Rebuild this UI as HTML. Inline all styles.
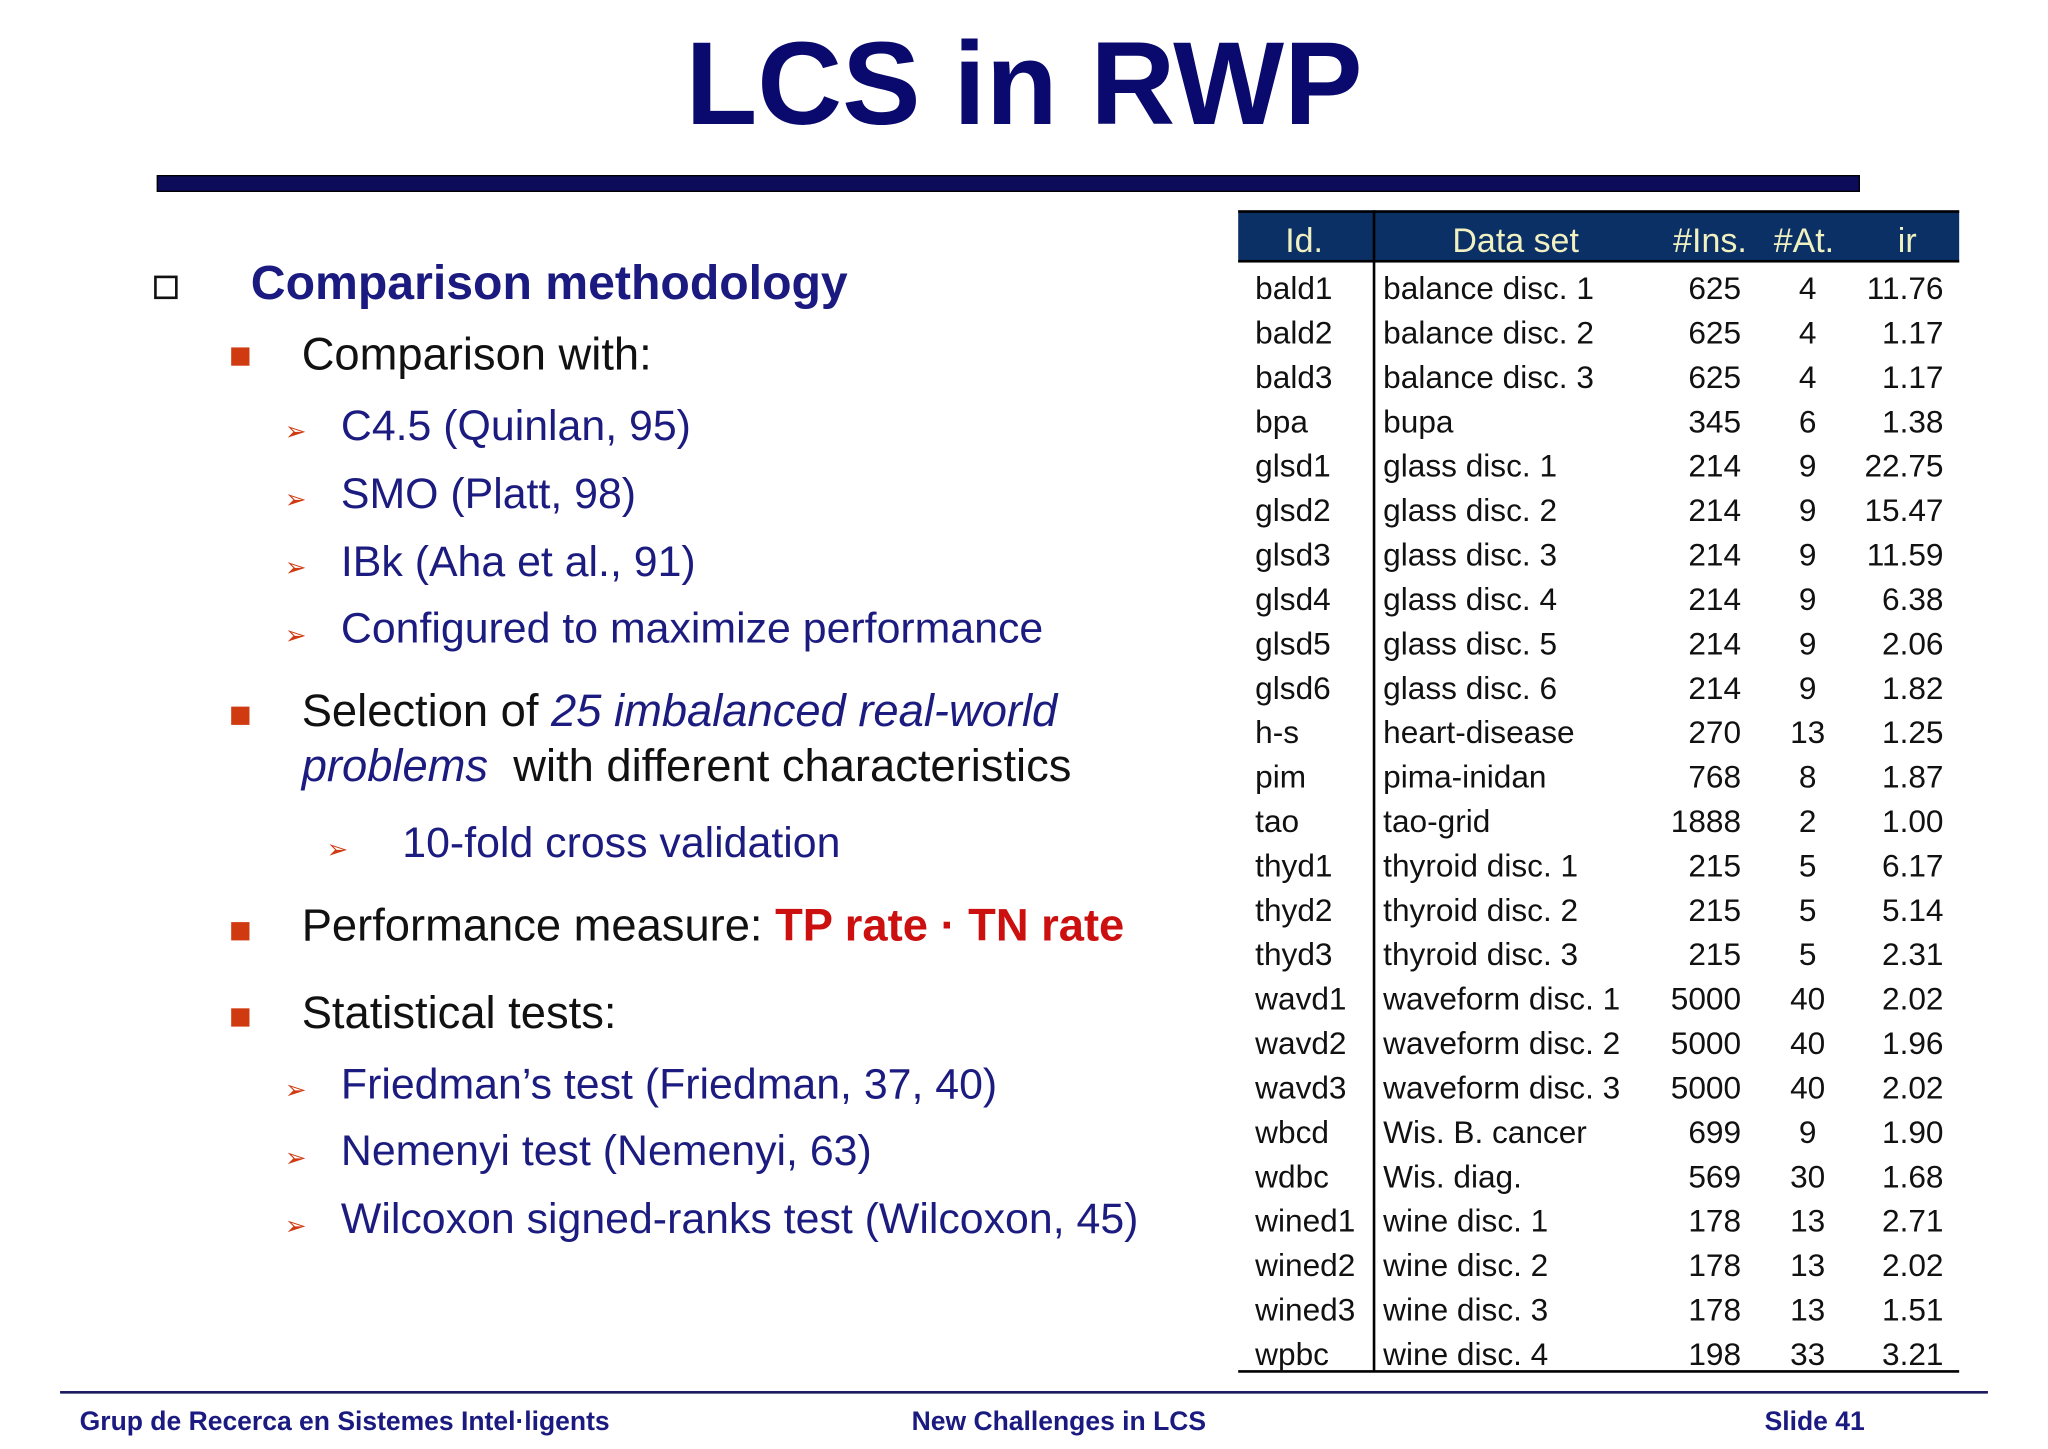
<!DOCTYPE html>
<html><head><meta charset="utf-8"><style>
html,body{margin:0;padding:0;background:#fff;}
body{width:2048px;height:1448px;overflow:hidden;}
#s{position:absolute;left:0;top:0;width:1568px;height:1109px;transform:scale(1.30612);transform-origin:0 0;font-family:"Liberation Sans",sans-serif;}
.a{position:absolute;white-space:nowrap;}
.t{color:#111;font-size:34.7px;}
.n{color:#1c1c80;font-size:32.8px;}
.sq{position:absolute;width:14px;height:14px;background:#d03a10;}
.ar{position:absolute;color:#d03a10;font-size:20px;}
#tbl{position:absolute;left:948px;top:161px;width:552px;}
.r{position:absolute;left:0;width:552px;height:34px;font-size:24.2px;color:#111;}
.r span{position:absolute;top:3px;}
</style></head><body>
<div id="s">
<div class="a" style="left:0;width:1568px;text-align:center;top:14px;font-size:90px;font-weight:bold;color:#0a0a6e;">LCS in RWP</div>
<div class="a" style="left:120px;top:134px;width:1302px;height:11px;background:#0c0c5a;border:1px solid #000;"></div>

<div class="a" style="left:118px;top:211px;width:14px;height:14px;border:2px solid #111;"></div>
<div class="a" style="left:192px;top:196px;font-size:36.9px;font-weight:bold;color:#1a1a80;">Comparison methodology</div>

<div class="sq" style="left:177px;top:266px;"></div>
<div class="a t" style="left:231px;top:253px;">Comparison with:</div>
<div class="ar" style="left:218px;top:318px;">➢</div><div class="a n" style="left:261px;top:307px;">C4.5 (Quinlan, 95)</div>
<div class="ar" style="left:218px;top:370px;">➢</div><div class="a n" style="left:261px;top:359px;">SMO (Platt, 98)</div>
<div class="ar" style="left:218px;top:422px;">➢</div><div class="a n" style="left:261px;top:411px;">IBk (Aha et al., 91)</div>
<div class="ar" style="left:218px;top:474px;">➢</div><div class="a n" style="left:261px;top:462px;">Configured to maximize performance</div>

<div class="sq" style="left:177px;top:541px;"></div>
<div class="a t" style="left:231px;top:526px;">Selection of <i style="color:#1c1c80">25 imbalanced real-world</i></div>
<div class="a t" style="left:231px;top:568px;"><i style="color:#1c1c80">problems</i>&nbsp; with different characteristics</div>
<div class="ar" style="left:250px;top:638px;">➢</div><div class="a n" style="left:308px;top:626px;">10-fold cross validation</div>

<div class="sq" style="left:177px;top:706px;"></div>
<div class="a t" style="left:231px;top:690px;">Performance measure: <b style="color:#cc1010">TP rate · TN rate</b></div>

<div class="sq" style="left:177px;top:772px;"></div>
<div class="a t" style="left:231px;top:757px;">Statistical tests:</div>
<div class="ar" style="left:218px;top:822px;">➢</div><div class="a n" style="left:261px;top:811px;">Friedman’s test (Friedman, 37, 40)</div>
<div class="ar" style="left:218px;top:874px;">➢</div><div class="a n" style="left:261px;top:862px;">Nemenyi test (Nemenyi, 63)</div>
<div class="ar" style="left:218px;top:926px;">➢</div><div class="a n" style="left:261px;top:914px;">Wilcoxon signed-ranks test (Wilcoxon, 45)</div>

<div id="tbl">
<div class="a" style="left:0;top:0;width:552px;height:40px;background:#0a3065;border-top:2px solid #000;border-bottom:2px solid #000;box-sizing:border-box;color:#f0f0c0;font-size:26px;">
<span class="a" style="left:36px;top:6px;">Id.</span><span class="a" style="left:164px;top:6px;">Data set</span><span class="a" style="left:333px;top:6px;">#Ins.</span><span class="a" style="left:410px;top:6px;">#At.</span><span class="a" style="left:505px;top:6px;">ir</span></div>
<div class="a" style="left:103px;top:0;width:2px;height:889px;background:#000;"></div>
<div class="a" style="left:0;top:888px;width:552px;height:2px;background:#000;"></div>
<div id="rows"></div>
</div>

<div class="a" style="left:46px;top:1065px;width:1476px;height:2px;background:#1a1a60;"></div>
<div class="a" style="left:61px;top:1078px;font-size:20.3px;font-weight:bold;color:#1a1a80;">Grup de Recerca en Sistemes Intel·ligents</div>
<div class="a" style="left:698px;top:1078px;font-size:20.3px;font-weight:bold;color:#1a1a80;">New Challenges in LCS</div>
<div class="a" style="left:1351px;top:1078px;font-size:20.3px;font-weight:bold;color:#1a1a80;">Slide 41</div>
</div>
<script>
const ids=["bald1","bald2","bald3","bpa","glsd1","glsd2","glsd3","glsd4","glsd5","glsd6","h-s","pim","tao","thyd1","thyd2","thyd3","wavd1","wavd2","wavd3","wbcd","wdbc","wined1","wined2","wined3","wpbc"];
const names=["balance disc. 1","balance disc. 2","balance disc. 3","bupa","glass disc. 1","glass disc. 2","glass disc. 3","glass disc. 4","glass disc. 5","glass disc. 6","heart-disease","pima-inidan","tao-grid","thyroid disc. 1","thyroid disc. 2","thyroid disc. 3","waveform disc. 1","waveform disc. 2","waveform disc. 3","Wis. B. cancer","Wis. diag.","wine disc. 1","wine disc. 2","wine disc. 3","wine disc. 4"];
const ins=["625","625","625","345","214","214","214","214","214","214","270","768","1888","215","215","215","5000","5000","5000","699","569","178","178","178","198"];
const ats=["4","4","4","6","9","9","9","9","9","9","13","8","2","5","5","5","40","40","40","9","30","13","13","13","33"];
const irs=["11.76","1.17","1.17","1.38","22.75","15.47","11.59","6.38","2.06","1.82","1.25","1.87","1.00","6.17","5.14","2.31","2.02","1.96","2.02","1.90","1.68","2.71","2.02","1.51","3.21"];
const c=document.getElementById('rows');
ids.forEach((id,i)=>{
 const r=document.createElement('div');
 r.className='r';
 r.style.top=(44+i*34)+'px';
 
 
 r.innerHTML='<span style="left:13px">'+id+'</span><span style="left:111px">'+names[i]+'</span><span style="right:167px">'+ins[i]+'</span><span style="left:410px;width:52px;text-align:center">'+ats[i]+'</span><span style="right:12px">'+irs[i]+'</span>';
 c.appendChild(r);
});
</script>
</body></html>
